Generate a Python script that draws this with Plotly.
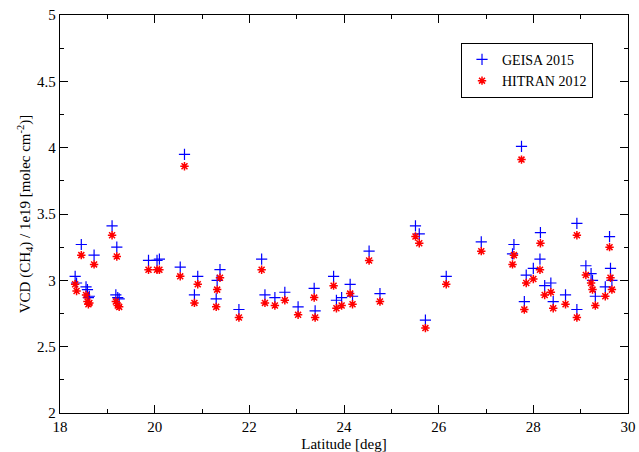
import plotly.graph_objects as go

latitude = [18.32, 18.35, 18.45, 18.55, 18.58, 18.62, 18.6, 18.72, 19.1, 19.2, 19.18, 19.22, 19.25,
            19.87, 20.05, 20.1, 20.54, 20.63, 20.84, 20.91, 21.3, 21.32, 21.38, 21.78,
            22.26, 22.33, 22.54, 22.75, 23.03, 23.37, 23.39, 23.78, 23.84, 23.95,
            24.13, 24.18, 24.53, 24.76, 25.51, 25.59, 25.72, 26.16, 26.9, 27.56, 27.59,
            27.75, 27.81, 27.85, 28.0, 28.14, 28.15, 28.24, 28.37, 28.42, 28.68, 28.92, 28.92,
            29.11, 29.22, 29.25, 29.31, 29.52, 29.61, 29.63, 29.66]
geisa_2015 = [3.03, 2.98, 3.27, 2.95, 2.93, 2.88, 2.87, 3.19, 3.41, 3.25, 2.89, 2.87, 2.86,
              3.15, 3.15, 3.16, 3.10, 3.95, 2.89, 3.03, 2.86, 3.00, 3.08, 2.78,
              3.16, 2.89, 2.87, 2.91, 2.80, 2.94, 2.77, 3.03, 2.85, 2.87,
              2.97, 2.88, 3.22, 2.90, 3.41, 3.35, 2.70, 3.03, 3.29, 3.20, 3.27,
              4.01, 2.84, 3.04, 3.09, 3.16, 3.36, 2.96, 2.98, 2.84, 2.89, 3.43, 2.78,
              3.11, 3.05, 3.00, 2.88, 2.95, 3.33, 3.09, 3.00]
hitran_2012 = [2.97, 2.92, 3.19, 2.89, 2.84, 2.83, 2.82, 3.12, 3.34, 3.18, 2.84, 2.81, 2.80,
               3.08, 3.08, 3.08, 3.03, 3.86, 2.83, 2.97, 2.80, 2.93, 3.02, 2.72,
               3.08, 2.83, 2.81, 2.85, 2.74, 2.87, 2.72, 2.96, 2.79, 2.81,
               2.90, 2.82, 3.15, 2.84, 3.33, 3.28, 2.64, 2.97, 3.22, 3.12, 3.19,
               3.91, 2.78, 2.98, 3.01, 3.08, 3.28, 2.89, 2.91, 2.79, 2.82, 3.34, 2.72,
               3.04, 2.98, 2.93, 2.81, 2.88, 3.25, 3.02, 2.93]

x_ticks = [18, 20, 22, 24, 26, 28, 30]
y_ticks = [2, 2.5, 3, 3.5, 4, 4.5, 5]
font_family = "Liberation Serif"

fig = go.Figure()
fig.add_trace(go.Scatter(
    x=latitude, y=geisa_2015, mode="markers", name="GEISA 2015",
    marker=dict(symbol="cross-thin", size=8, line=dict(color="#0000ff", width=1.2), color="#0000ff")))
fig.add_trace(go.Scatter(
    x=latitude, y=hitran_2012, mode="markers", name="HITRAN 2012",
    marker=dict(symbol="asterisk", size=7, line=dict(color="#ff0000", width=1.5), color="#ff0000")))

axis_common = dict(showgrid=False, zeroline=False, showline=True, linecolor="black", linewidth=1.3,
                   mirror="allticks", ticks="inside", tickcolor="black", ticklen=8, tickwidth=1,
                   automargin=False,
                   tickfont=dict(family=font_family, size=15, color="black"))

fig.update_xaxes(range=[18, 30], tickvals=x_ticks, ticktext=[str(v) for v in x_ticks],
                 minor=dict(dtick=1, ticks="inside", ticklen=4, tickcolor="black"),
                 title=dict(text="Latitude [deg]", font=dict(family=font_family, size=15, color="black")),
                 **axis_common)
fig.update_yaxes(range=[2, 5], tickvals=y_ticks, ticktext=[f"{v:g}" for v in y_ticks],
                 minor=dict(dtick=0.25, ticks="inside", ticklen=4, tickcolor="black"),
                 title=dict(text="VCD (CH<sub>4</sub>) / 1e19 [molec cm<sup>-2</sup>)]",
                            font=dict(family=font_family, size=15, color="black"), standoff=2),
                 **axis_common)

fig.update_layout(
    width=639, height=452,
    margin=dict(l=60, r=11, t=15, b=39),
    paper_bgcolor="white", plot_bgcolor="white",
    font=dict(family=font_family, color="black"),
    legend=dict(x=0.706, y=0.93, xanchor="left", yanchor="top",
                bordercolor="black", borderwidth=1, bgcolor="white",
                font=dict(family=font_family, size=14, color="black"),
                tracegroupgap=0, itemwidth=30, itemsizing="trace"),
    showlegend=True,
)

fig.write_html("out.html", config={"displayModeBar": False},
               post_script="document.body.style.margin='0px';")
